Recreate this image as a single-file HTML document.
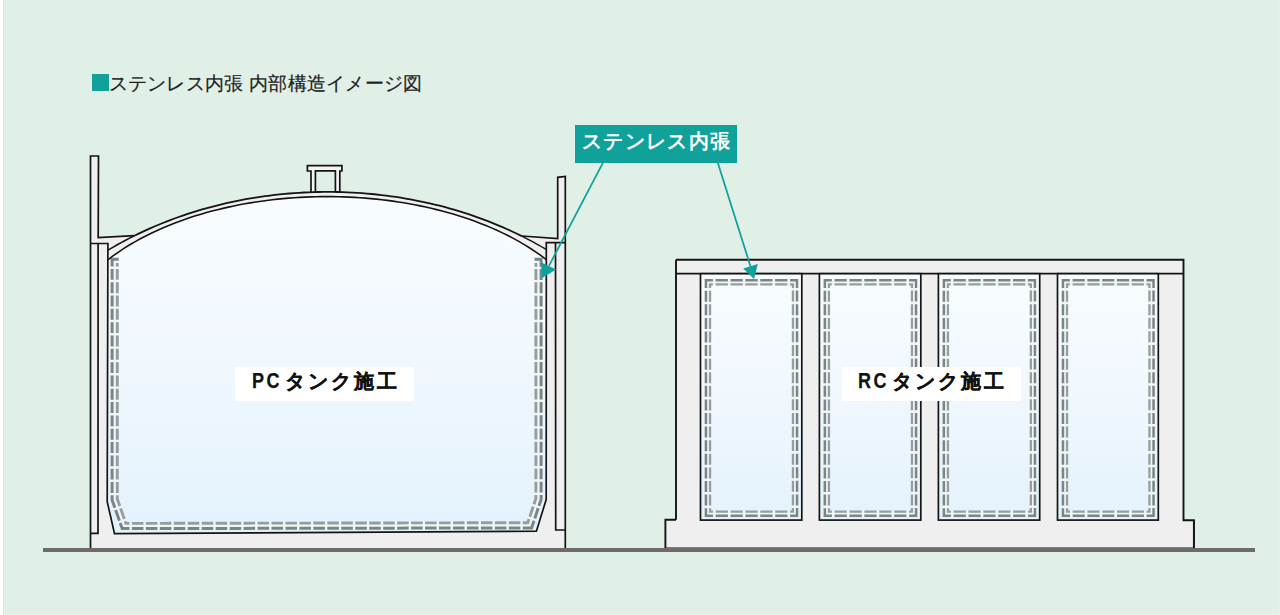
<!DOCTYPE html>
<html lang="ja"><head><meta charset="utf-8">
<style>
html,body{margin:0;padding:0;}
body{width:1280px;height:615px;overflow:hidden;position:relative;background:#e1f0e6;font-family:"Liberation Sans",sans-serif;}
.edge{position:absolute;left:0;top:0;width:3px;height:615px;background:#fff;}
.edge2{position:absolute;left:3px;top:0;width:1px;height:615px;background:#dbeae0;}
.edgeb{position:absolute;left:4px;top:614px;width:1276px;height:1px;background:#ebf4ee;}
.edger{position:absolute;left:1279px;top:0;width:1px;height:615px;background:#e8f2eb;}
svg{position:absolute;left:0;top:0;}
.title{position:absolute;left:108.5px;top:71.5px;font-size:19.3px;line-height:24px;letter-spacing:0.28px;color:#1e1e1e;white-space:nowrap;-webkit-text-stroke:0.2px #1e1e1e;}
.sq{position:absolute;left:91.6px;top:74.3px;width:17px;height:16.6px;background:#0fa19a;}
.callout{position:absolute;left:575px;top:125px;width:162px;height:38px;background:#0fa19a;color:#fff;font-size:20px;font-weight:bold;line-height:32px;letter-spacing:1.4px;text-indent:1.4px;text-align:center;white-space:nowrap;}
.lbl{position:absolute;top:367px;height:34px;background:#fff;color:#111;font-size:20px;font-weight:bold;-webkit-text-stroke:0.25px #111;line-height:28px;text-align:center;white-space:nowrap;letter-spacing:3px;word-spacing:-4px;text-indent:3.4px;box-sizing:border-box;}
.en{font-size:22.5px;letter-spacing:3px;display:inline-block;width:29px;text-indent:0;transform:scaleX(0.8);transform-origin:left center;vertical-align:top;}
</style></head>
<body>
<div class="edge"></div><div class="edge2"></div><div class="edgeb"></div><div class="edger"></div>
<svg width="1280" height="615" viewBox="0 0 1280 615">
<defs>
<linearGradient id="gin" x1="0" y1="0" x2="0" y2="1"><stop offset="0" stop-color="#f8fcff"/><stop offset="0.45" stop-color="#f1f8fe"/><stop offset="1" stop-color="#e3f2fc"/></linearGradient>
<linearGradient id="gc" x1="0" y1="0" x2="0" y2="1"><stop offset="0" stop-color="#f8fcff"/><stop offset="0.45" stop-color="#f1f8fe"/><stop offset="1" stop-color="#e3f2fc"/></linearGradient>
</defs>
<path d="M90.50 156.00 L98.50 156.00 L98.20 237.70 L134.40 235.73 L139.24 233.37 L144.09 231.09 L148.93 228.89 L153.77 226.77 L158.61 224.72 L163.46 222.75 L168.30 220.85 L173.14 219.02 L177.98 217.27 L182.82 215.57 L187.67 213.95 L192.51 212.39 L197.35 210.90 L202.19 209.46 L207.04 208.09 L211.88 206.78 L216.72 205.53 L221.56 204.34 L226.41 203.21 L231.25 202.13 L236.09 201.11 L240.94 200.15 L245.78 199.24 L250.62 198.39 L255.46 197.59 L260.31 196.85 L265.15 196.16 L269.99 195.52 L274.83 194.93 L279.68 194.40 L284.52 193.92 L289.36 193.49 L294.20 193.11 L299.04 192.79 L303.89 192.51 L308.73 192.29 L313.57 192.12 L318.41 191.99 L323.26 191.92 L328.10 191.90 L332.94 191.93 L337.78 192.01 L342.63 192.14 L347.47 192.32 L352.31 192.55 L357.15 192.84 L362.00 193.17 L366.84 193.56 L371.68 194.00 L376.52 194.49 L381.37 195.03 L386.21 195.62 L391.05 196.27 L395.89 196.97 L400.74 197.72 L405.58 198.53 L410.42 199.39 L415.26 200.30 L420.11 201.28 L424.95 202.30 L429.79 203.39 L434.63 204.53 L439.48 205.73 L444.32 206.99 L449.16 208.31 L454.00 209.70 L458.85 211.14 L463.69 212.64 L468.53 214.21 L473.38 215.85 L478.22 217.55 L483.06 219.32 L487.90 221.16 L492.75 223.07 L497.59 225.05 L502.43 227.11 L507.27 229.24 L512.12 231.46 L516.96 233.75 L521.80 236.13 L557.70 238.70 L557.70 177.30 L565.30 176.40 L565.30 548.00 L90.40 548.00 Z" fill="#efefef"/>
<path d="M307.4 165.6 H341.9 V171 H339.8 V191.9 H311 V171 H307.4 Z" fill="#f4f4f4"/>
<rect x="315.4" y="170.8" width="20" height="22" fill="#e1f0e6"/>
<path d="M107.90 259.83 L113.38 255.69 L118.86 251.82 L124.34 248.19 L129.81 244.79 L135.29 241.58 L140.77 238.56 L146.25 235.70 L151.73 232.99 L157.21 230.43 L162.69 228.00 L168.17 225.69 L173.65 223.51 L179.12 221.44 L184.60 219.47 L190.08 217.61 L195.56 215.84 L201.04 214.17 L206.52 212.59 L212.00 211.09 L217.48 209.68 L222.95 208.35 L228.43 207.11 L233.91 205.94 L239.39 204.84 L244.87 203.82 L250.35 202.87 L255.83 201.99 L261.31 201.18 L266.78 200.44 L272.26 199.77 L277.74 199.16 L283.22 198.62 L288.70 198.15 L294.18 197.74 L299.66 197.39 L305.14 197.11 L310.61 196.89 L316.09 196.73 L321.57 196.63 L327.05 196.60 L332.53 196.63 L338.01 196.72 L343.49 196.88 L348.97 197.09 L354.44 197.37 L359.92 197.72 L365.40 198.12 L370.88 198.60 L376.36 199.13 L381.84 199.74 L387.32 200.40 L392.80 201.14 L398.27 201.95 L403.75 202.82 L409.23 203.76 L414.71 204.78 L420.19 205.87 L425.67 207.04 L431.15 208.28 L436.62 209.61 L442.10 211.01 L447.58 212.50 L453.06 214.08 L458.54 215.75 L464.02 217.51 L469.50 219.36 L474.98 221.32 L480.46 223.39 L485.93 225.57 L491.41 227.87 L496.89 230.29 L502.37 232.85 L507.85 235.55 L513.33 238.40 L518.81 241.41 L524.29 244.61 L529.76 248.00 L535.24 251.61 L540.72 255.47 L546.20 259.60 L546.20 499.50 L536.40 531.20 L114.50 533.60 L107.20 501.60 Z" fill="url(#gin)"/>
<path d="M118.70 261.80 L114.70 261.80 L114.70 499.50 L124.00 526.00 L529.70 525.30 L538.50 499.00 L538.50 261.80 L534.50 261.80" fill="none" stroke="#f2f5f5" stroke-width="8" stroke-linejoin="miter"/>
<path d="M118.70 259.20 L112.10 259.20 L112.10 499.94 L122.16 528.60 L531.57 527.90 L541.10 499.42 L541.10 259.20 L534.50 259.20" fill="none" stroke="#7a8585" stroke-width="3.0" stroke-dasharray="13.90 2.40 10.92 2.40 10.92 2.40 10.92 2.40 10.92 2.40 10.92 2.40 10.92 2.40 10.92 2.40 10.92 2.40 10.92 2.40 10.92 2.40 10.92 2.40 10.92 2.40 10.92 2.40 10.92 2.40 10.92 2.40 10.92 2.40 10.92 2.40 12.96 2.40 11.29 2.40 13.27 2.40 11.56 2.40 11.56 2.40 11.56 2.40 11.56 2.40 11.56 2.40 11.56 2.40 11.56 2.40 11.56 2.40 11.56 2.40 11.56 2.40 11.56 2.40 11.56 2.40 11.56 2.40 11.56 2.40 11.56 2.40 11.56 2.40 11.56 2.40 11.56 2.40 11.56 2.40 11.56 2.40 11.56 2.40 11.56 2.40 11.56 2.40 11.56 2.40 11.56 2.40 11.56 2.40 11.56 2.40 11.56 2.40 16.38 2.40 10.85 2.40 11.21 2.40 10.89 2.40 10.89 2.40 10.89 2.40 10.89 2.40 10.89 2.40 10.89 2.40 10.89 2.40 10.89 2.40 10.89 2.40 10.89 2.40 10.89 2.40 10.89 2.40 10.89 2.40 10.89 2.40 10.89 2.40 10.89 2.40 10.89 2.40 14.07 10000.00" stroke-linejoin="miter"/>
<path d="M118.70 264.40 L117.30 264.40 L117.30 499.06 L125.84 523.40 L527.83 522.70 L535.90 498.58 L535.90 264.40 L534.50 264.40" fill="none" stroke="#949e9e" stroke-width="2.9" stroke-dasharray="3.50 2.40 10.92 2.40 10.92 2.40 10.92 2.40 10.92 2.40 10.92 2.40 10.92 2.40 10.92 2.40 10.92 2.40 10.92 2.40 10.92 2.40 10.92 2.40 10.92 2.40 10.92 2.40 10.92 2.40 10.92 2.40 10.92 2.40 10.92 2.40 11.19 2.40 11.29 2.40 5.89 2.40 11.56 2.40 11.56 2.40 11.56 2.40 11.56 2.40 11.56 2.40 11.56 2.40 11.56 2.40 11.56 2.40 11.56 2.40 11.56 2.40 11.56 2.40 11.56 2.40 11.56 2.40 11.56 2.40 11.56 2.40 11.56 2.40 11.56 2.40 11.56 2.40 11.56 2.40 11.56 2.40 11.56 2.40 11.56 2.40 11.56 2.40 11.56 2.40 11.56 2.40 11.56 2.40 11.56 2.40 11.56 2.40 8.91 2.40 10.85 2.40 9.51 2.40 10.89 2.40 10.89 2.40 10.89 2.40 10.89 2.40 10.89 2.40 10.89 2.40 10.89 2.40 10.89 2.40 10.89 2.40 10.89 2.40 10.89 2.40 10.89 2.40 10.89 2.40 10.89 2.40 10.89 2.40 10.89 2.40 10.89 2.40 3.67 10000.00" stroke-linejoin="miter"/>
<path d="M90.50 548.00 L90.50 156.00 L98.50 156.00 L98.20 237.70 L134.40 235.70" fill="none" stroke="#141414" stroke-width="1.7" stroke-linejoin="miter"/>
<path d="M134.40 235.73 L139.24 233.37 L144.09 231.09 L148.93 228.89 L153.77 226.77 L158.61 224.72 L163.46 222.75 L168.30 220.85 L173.14 219.02 L177.98 217.27 L182.82 215.57 L187.67 213.95 L192.51 212.39 L197.35 210.90 L202.19 209.46 L207.04 208.09 L211.88 206.78 L216.72 205.53 L221.56 204.34 L226.41 203.21 L231.25 202.13 L236.09 201.11 L240.94 200.15 L245.78 199.24 L250.62 198.39 L255.46 197.59 L260.31 196.85 L265.15 196.16 L269.99 195.52 L274.83 194.93 L279.68 194.40 L284.52 193.92 L289.36 193.49 L294.20 193.11 L299.04 192.79 L303.89 192.51 L308.73 192.29 L313.57 192.12 L318.41 191.99 L323.26 191.92 L328.10 191.90 L332.94 191.93 L337.78 192.01 L342.63 192.14 L347.47 192.32 L352.31 192.55 L357.15 192.84 L362.00 193.17 L366.84 193.56 L371.68 194.00 L376.52 194.49 L381.37 195.03 L386.21 195.62 L391.05 196.27 L395.89 196.97 L400.74 197.72 L405.58 198.53 L410.42 199.39 L415.26 200.30 L420.11 201.28 L424.95 202.30 L429.79 203.39 L434.63 204.53 L439.48 205.73 L444.32 206.99 L449.16 208.31 L454.00 209.70 L458.85 211.14 L463.69 212.64 L468.53 214.21 L473.38 215.85 L478.22 217.55 L483.06 219.32 L487.90 221.16 L492.75 223.07 L497.59 225.05 L502.43 227.11 L507.27 229.24 L512.12 231.46 L516.96 233.75 L521.80 236.13" fill="none" stroke="#141414" stroke-width="1.8" stroke-linejoin="miter"/>
<path d="M108.00 250.18 L110.64 248.61 L113.28 247.07 L115.92 245.55 L118.56 244.07 L121.20 242.61 L123.84 241.18 L126.48 239.78 L129.12 238.40 L131.76 237.05 L134.40 235.73" fill="none" stroke="#141414" stroke-width="1.6" stroke-linejoin="miter"/>
<path d="M521.80 236.13 L524.22 237.35 L526.64 238.59 L529.06 239.85 L531.48 241.14 L533.90 242.44 L536.32 243.78 L538.74 245.13 L541.16 246.51 L543.58 247.92 L546.00 249.35" fill="none" stroke="#141414" stroke-width="1.4" stroke-linejoin="miter"/>
<path d="M107.90 259.83 L113.38 255.69 L118.86 251.82 L124.34 248.19 L129.81 244.79 L135.29 241.58 L140.77 238.56 L146.25 235.70 L151.73 232.99 L157.21 230.43 L162.69 228.00 L168.17 225.69 L173.65 223.51 L179.12 221.44 L184.60 219.47 L190.08 217.61 L195.56 215.84 L201.04 214.17 L206.52 212.59 L212.00 211.09 L217.48 209.68 L222.95 208.35 L228.43 207.11 L233.91 205.94 L239.39 204.84 L244.87 203.82 L250.35 202.87 L255.83 201.99 L261.31 201.18 L266.78 200.44 L272.26 199.77 L277.74 199.16 L283.22 198.62 L288.70 198.15 L294.18 197.74 L299.66 197.39 L305.14 197.11 L310.61 196.89 L316.09 196.73 L321.57 196.63 L327.05 196.60 L332.53 196.63 L338.01 196.72 L343.49 196.88 L348.97 197.09 L354.44 197.37 L359.92 197.72 L365.40 198.12 L370.88 198.60 L376.36 199.13 L381.84 199.74 L387.32 200.40 L392.80 201.14 L398.27 201.95 L403.75 202.82 L409.23 203.76 L414.71 204.78 L420.19 205.87 L425.67 207.04 L431.15 208.28 L436.62 209.61 L442.10 211.01 L447.58 212.50 L453.06 214.08 L458.54 215.75 L464.02 217.51 L469.50 219.36 L474.98 221.32 L480.46 223.39 L485.93 225.57 L491.41 227.87 L496.89 230.29 L502.37 232.85 L507.85 235.55 L513.33 238.40 L518.81 241.41 L524.29 244.61 L529.76 248.00 L535.24 251.61 L540.72 255.47 L546.20 259.60" fill="none" stroke="#141414" stroke-width="1.6" stroke-linejoin="miter"/>
<path d="M521.80 236.00 L557.70 238.70 L557.70 177.30 L565.30 176.40 L565.30 548.00" fill="none" stroke="#141414" stroke-width="1.7" stroke-linejoin="miter"/>
<path d="M90.50 243.50 L107.90 243.50 L107.20 501.60 L114.50 533.60 L536.40 531.20 L546.20 499.50 L546.30 242.60 L565.30 242.60" fill="none" stroke="#141414" stroke-width="1.7" stroke-linejoin="miter"/>
<path d="M98.10 243.50 L98.00 533.40 L90.50 533.40" fill="none" stroke="#141414" stroke-width="1.7" stroke-linejoin="miter"/>
<path d="M555.50 242.60 L555.70 530.00 L565.30 530.00" fill="none" stroke="#141414" stroke-width="1.7" stroke-linejoin="miter"/>
<path d="M311.00 192.20 L311.00 171.00 L307.40 171.00 L307.40 165.60 L341.90 165.60 L341.90 171.00 L339.80 171.00 L339.80 192.06" fill="none" stroke="#141414" stroke-width="1.7" stroke-linejoin="miter"/>
<path d="M315.40 192.06 L315.40 170.80 L335.40 170.80 L335.40 191.96" fill="none" stroke="#141414" stroke-width="1.7" stroke-linejoin="miter"/>
<path d="M676.00 259.70 L1183.50 259.70 L1183.50 520.20 L1193.90 520.20 L1193.90 548.50 L665.40 548.50 L665.40 519.80 L676.00 519.80 Z" fill="#efefef"/>
<path d="M676.00 259.70 L1183.50 259.70 L1183.50 520.20 L1193.90 520.20 L1193.90 548.50 L665.40 548.50 L665.40 519.80 L676.00 519.80" fill="none" stroke="#141414" stroke-width="1.9" stroke-linejoin="miter"/>
<path d="M1193.9 548.5 L1193.9 520.2" stroke="#141414" stroke-width="1.6"/>
<path d="M676.00 259.70 L676.00 519.80" fill="none" stroke="#141414" stroke-width="1.9" stroke-linejoin="miter"/>
<path d="M676.00 273.70 L1183.50 273.70" fill="none" stroke="#141414" stroke-width="1.7" stroke-linejoin="miter"/>
<rect x="700.5" y="273.7" width="101.3" height="246.4" fill="url(#gc)" stroke="#141414" stroke-width="1.7"/>
<rect x="708.00" y="282.40" width="87.00" height="231.30" fill="none" stroke="#f2f5f5" stroke-width="6"/>
<path d="M714.30 280.35 L797.05 280.35 L797.05 515.75 L705.95 515.75 L705.95 280.35 L714.30 280.35" fill="none" stroke="#7a8585" stroke-width="2.5" stroke-dasharray="0.00 1.30 12.28 2.60 12.28 2.60 12.28 2.60 12.28 2.60 12.28 2.60 14.70 2.60 10.99 2.60 10.99 2.60 10.99 2.60 10.99 2.60 10.99 2.60 10.99 2.60 10.99 2.60 10.99 2.60 10.99 2.60 10.99 2.60 10.99 2.60 10.99 2.60 10.99 2.60 10.99 2.60 10.99 2.60 10.99 2.60 14.70 2.60 12.28 2.60 12.28 2.60 12.28 2.60 12.28 2.60 12.28 2.60 14.70 2.60 10.99 2.60 10.99 2.60 10.99 2.60 10.99 2.60 10.99 2.60 10.99 2.60 10.99 2.60 10.99 2.60 10.99 2.60 10.99 2.60 10.99 2.60 10.99 2.60 10.99 2.60 10.99 2.60 10.99 2.60 10.99 2.60 14.70 10000.00" stroke-linejoin="miter"/>
<path d="M714.30 284.45 L792.95 284.45 L792.95 511.65 L710.05 511.65 L710.05 284.45 L714.30 284.45" fill="none" stroke="#949e9e" stroke-width="2.3" stroke-dasharray="0.00 1.30 12.28 2.60 12.28 2.60 12.28 2.60 12.28 2.60 12.28 2.60 6.50 2.60 10.99 2.60 10.99 2.60 10.99 2.60 10.99 2.60 10.99 2.60 10.99 2.60 10.99 2.60 10.99 2.60 10.99 2.60 10.99 2.60 10.99 2.60 10.99 2.60 10.99 2.60 10.99 2.60 10.99 2.60 10.99 2.60 6.50 2.60 12.28 2.60 12.28 2.60 12.28 2.60 12.28 2.60 12.28 2.60 6.50 2.60 10.99 2.60 10.99 2.60 10.99 2.60 10.99 2.60 10.99 2.60 10.99 2.60 10.99 2.60 10.99 2.60 10.99 2.60 10.99 2.60 10.99 2.60 10.99 2.60 10.99 2.60 10.99 2.60 10.99 2.60 10.99 2.60 6.50 10000.00" stroke-linejoin="miter"/>
<rect x="819.4" y="273.7" width="101.4" height="246.4" fill="url(#gc)" stroke="#141414" stroke-width="1.7"/>
<rect x="826.90" y="282.40" width="87.10" height="231.30" fill="none" stroke="#f2f5f5" stroke-width="6"/>
<path d="M833.20 280.35 L916.05 280.35 L916.05 515.75 L824.85 515.75 L824.85 280.35 L833.20 280.35" fill="none" stroke="#7a8585" stroke-width="2.5" stroke-dasharray="0.00 1.30 12.30 2.60 12.30 2.60 12.30 2.60 12.30 2.60 12.30 2.60 14.70 2.60 10.99 2.60 10.99 2.60 10.99 2.60 10.99 2.60 10.99 2.60 10.99 2.60 10.99 2.60 10.99 2.60 10.99 2.60 10.99 2.60 10.99 2.60 10.99 2.60 10.99 2.60 10.99 2.60 10.99 2.60 10.99 2.60 14.70 2.60 12.30 2.60 12.30 2.60 12.30 2.60 12.30 2.60 12.30 2.60 14.70 2.60 10.99 2.60 10.99 2.60 10.99 2.60 10.99 2.60 10.99 2.60 10.99 2.60 10.99 2.60 10.99 2.60 10.99 2.60 10.99 2.60 10.99 2.60 10.99 2.60 10.99 2.60 10.99 2.60 10.99 2.60 10.99 2.60 14.70 10000.00" stroke-linejoin="miter"/>
<path d="M833.20 284.45 L911.95 284.45 L911.95 511.65 L828.95 511.65 L828.95 284.45 L833.20 284.45" fill="none" stroke="#949e9e" stroke-width="2.3" stroke-dasharray="0.00 1.30 12.30 2.60 12.30 2.60 12.30 2.60 12.30 2.60 12.30 2.60 6.50 2.60 10.99 2.60 10.99 2.60 10.99 2.60 10.99 2.60 10.99 2.60 10.99 2.60 10.99 2.60 10.99 2.60 10.99 2.60 10.99 2.60 10.99 2.60 10.99 2.60 10.99 2.60 10.99 2.60 10.99 2.60 10.99 2.60 6.50 2.60 12.30 2.60 12.30 2.60 12.30 2.60 12.30 2.60 12.30 2.60 6.50 2.60 10.99 2.60 10.99 2.60 10.99 2.60 10.99 2.60 10.99 2.60 10.99 2.60 10.99 2.60 10.99 2.60 10.99 2.60 10.99 2.60 10.99 2.60 10.99 2.60 10.99 2.60 10.99 2.60 10.99 2.60 10.99 2.60 6.50 10000.00" stroke-linejoin="miter"/>
<rect x="938.4" y="273.7" width="101.3" height="246.4" fill="url(#gc)" stroke="#141414" stroke-width="1.7"/>
<rect x="945.90" y="282.40" width="87.00" height="231.30" fill="none" stroke="#f2f5f5" stroke-width="6"/>
<path d="M952.20 280.35 L1034.95 280.35 L1034.95 515.75 L943.85 515.75 L943.85 280.35 L952.20 280.35" fill="none" stroke="#7a8585" stroke-width="2.5" stroke-dasharray="0.00 1.30 12.28 2.60 12.28 2.60 12.28 2.60 12.28 2.60 12.28 2.60 14.70 2.60 10.99 2.60 10.99 2.60 10.99 2.60 10.99 2.60 10.99 2.60 10.99 2.60 10.99 2.60 10.99 2.60 10.99 2.60 10.99 2.60 10.99 2.60 10.99 2.60 10.99 2.60 10.99 2.60 10.99 2.60 10.99 2.60 14.70 2.60 12.28 2.60 12.28 2.60 12.28 2.60 12.28 2.60 12.28 2.60 14.70 2.60 10.99 2.60 10.99 2.60 10.99 2.60 10.99 2.60 10.99 2.60 10.99 2.60 10.99 2.60 10.99 2.60 10.99 2.60 10.99 2.60 10.99 2.60 10.99 2.60 10.99 2.60 10.99 2.60 10.99 2.60 10.99 2.60 14.70 10000.00" stroke-linejoin="miter"/>
<path d="M952.20 284.45 L1030.85 284.45 L1030.85 511.65 L947.95 511.65 L947.95 284.45 L952.20 284.45" fill="none" stroke="#949e9e" stroke-width="2.3" stroke-dasharray="0.00 1.30 12.28 2.60 12.28 2.60 12.28 2.60 12.28 2.60 12.28 2.60 6.50 2.60 10.99 2.60 10.99 2.60 10.99 2.60 10.99 2.60 10.99 2.60 10.99 2.60 10.99 2.60 10.99 2.60 10.99 2.60 10.99 2.60 10.99 2.60 10.99 2.60 10.99 2.60 10.99 2.60 10.99 2.60 10.99 2.60 6.50 2.60 12.28 2.60 12.28 2.60 12.28 2.60 12.28 2.60 12.28 2.60 6.50 2.60 10.99 2.60 10.99 2.60 10.99 2.60 10.99 2.60 10.99 2.60 10.99 2.60 10.99 2.60 10.99 2.60 10.99 2.60 10.99 2.60 10.99 2.60 10.99 2.60 10.99 2.60 10.99 2.60 10.99 2.60 10.99 2.60 6.50 10000.00" stroke-linejoin="miter"/>
<rect x="1057.5" y="273.7" width="100.8" height="246.4" fill="url(#gc)" stroke="#141414" stroke-width="1.7"/>
<rect x="1065.00" y="282.40" width="86.50" height="231.30" fill="none" stroke="#f2f5f5" stroke-width="6"/>
<path d="M1071.30 280.35 L1153.55 280.35 L1153.55 515.75 L1062.95 515.75 L1062.95 280.35 L1071.30 280.35" fill="none" stroke="#7a8585" stroke-width="2.5" stroke-dasharray="0.00 1.30 12.18 2.60 12.18 2.60 12.18 2.60 12.18 2.60 12.18 2.60 14.70 2.60 10.99 2.60 10.99 2.60 10.99 2.60 10.99 2.60 10.99 2.60 10.99 2.60 10.99 2.60 10.99 2.60 10.99 2.60 10.99 2.60 10.99 2.60 10.99 2.60 10.99 2.60 10.99 2.60 10.99 2.60 10.99 2.60 14.70 2.60 12.18 2.60 12.18 2.60 12.18 2.60 12.18 2.60 12.18 2.60 14.70 2.60 10.99 2.60 10.99 2.60 10.99 2.60 10.99 2.60 10.99 2.60 10.99 2.60 10.99 2.60 10.99 2.60 10.99 2.60 10.99 2.60 10.99 2.60 10.99 2.60 10.99 2.60 10.99 2.60 10.99 2.60 10.99 2.60 14.70 10000.00" stroke-linejoin="miter"/>
<path d="M1071.30 284.45 L1149.45 284.45 L1149.45 511.65 L1067.05 511.65 L1067.05 284.45 L1071.30 284.45" fill="none" stroke="#949e9e" stroke-width="2.3" stroke-dasharray="0.00 1.30 12.18 2.60 12.18 2.60 12.18 2.60 12.18 2.60 12.18 2.60 6.50 2.60 10.99 2.60 10.99 2.60 10.99 2.60 10.99 2.60 10.99 2.60 10.99 2.60 10.99 2.60 10.99 2.60 10.99 2.60 10.99 2.60 10.99 2.60 10.99 2.60 10.99 2.60 10.99 2.60 10.99 2.60 10.99 2.60 6.50 2.60 12.18 2.60 12.18 2.60 12.18 2.60 12.18 2.60 12.18 2.60 6.50 2.60 10.99 2.60 10.99 2.60 10.99 2.60 10.99 2.60 10.99 2.60 10.99 2.60 10.99 2.60 10.99 2.60 10.99 2.60 10.99 2.60 10.99 2.60 10.99 2.60 10.99 2.60 10.99 2.60 10.99 2.60 10.99 2.60 6.50 10000.00" stroke-linejoin="miter"/>
<rect x="43" y="548" width="1212" height="4" fill="#6d6b6c"/>
<line x1="603" y1="162.7" x2="549" y2="265.8" stroke="#0fa19a" stroke-width="1.75"/>
<polygon points="542,278 541,262.3 556.2,269.6" fill="#0fa19a"/>
<line x1="717.8" y1="162.7" x2="750.5" y2="266.4" stroke="#0fa19a" stroke-width="1.75"/>
<polygon points="754,279 743.2,268.6 757.8,264.0" fill="#0fa19a"/>
</svg>
<div class="sq"></div><div class="title">ステンレス内張 内部構造イメージ図</div>
<div class="callout">ステンレス内張</div>
<div class="lbl" style="left:235px;width:179px;"><span class="en">PC</span> タンク施工</div>
<div class="lbl" style="left:841.5px;width:179px;"><span class="en">RC</span> タンク施工</div>
</body></html>
